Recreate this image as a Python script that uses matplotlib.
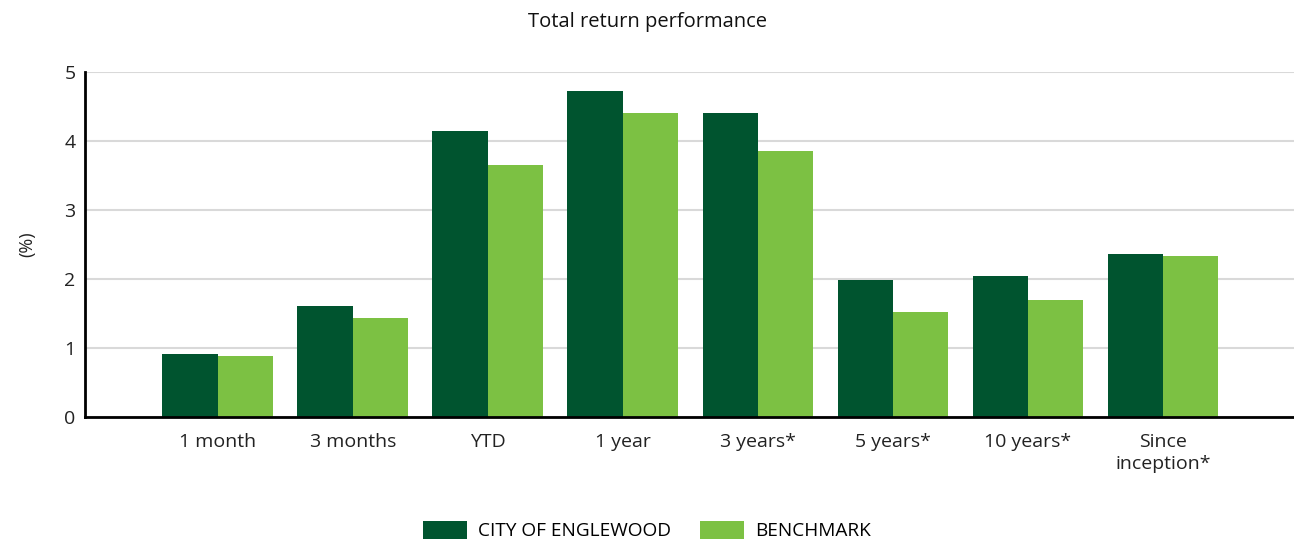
import numpy as np
import matplotlib
matplotlib.use("Agg")
import matplotlib.pyplot as plt

plt.rcParams['font.family'] = ['Open Sans', 'DejaVu Sans']

categories = ["1 month", "3 months", "YTD", "1 year", "3 years*",
              "5 years*", "10 years*", "Since\ninception*"]
city = [0.91, 1.61, 4.15, 4.72, 4.41, 1.99, 2.05, 2.37]
benchmark = [0.88, 1.44, 3.65, 4.41, 3.86, 1.53, 1.70, 2.34]
series_names = ["CITY OF ENGLEWOOD", "BENCHMARK"]

DARK = "#00542F"
LIGHT = "#7CC143"
TXT = "#222222"

fig = plt.figure(figsize=(12.94, 5.44), dpi=100)
ax = fig.add_axes([0.066, 0.233, 0.934, 0.635])

x = np.arange(len(categories))
w = 0.41
ax.bar(x - w / 2, city, w, color=DARK, label=series_names[0], zorder=3)
ax.bar(x + w / 2, benchmark, w, color=LIGHT, label=series_names[1], zorder=3)

ax.set_xlim(-0.98, 7.97)
ax.set_ylim(0, 5)
ax.set_yticks(range(6))
ax.set_xticks(x)
ax.set_xticklabels(categories, fontsize=14, color=TXT, linespacing=1.3)
ax.tick_params(axis='both', length=0, colors=TXT)
ax.tick_params(axis='x', pad=11, labelsize=14)
ax.tick_params(axis='y', pad=7, labelsize=14)
ax.yaxis.grid(True, color="#d9d9d9", linewidth=1.5, zorder=0)

for s in ["top", "right"]:
    ax.spines[s].set_visible(False)
for s in ["left", "bottom"]:
    ax.spines[s].set_color("black")
    ax.spines[s].set_linewidth(2)
    ax.spines[s].set_zorder(4)

ax.set_ylabel("(%)", fontsize=13, color=TXT, labelpad=20)
fig.suptitle("Total return performance", fontsize=14.5, y=0.978, x=0.5, color="#111111")

fig.legend(loc="lower center", bbox_to_anchor=(0.5, -0.025), ncol=2, frameon=False,
           fontsize=13.7, handlelength=2.3, handleheight=1.1, columnspacing=1.5,
           handletextpad=0.6)

fig.savefig("out.png", dpi=100)
